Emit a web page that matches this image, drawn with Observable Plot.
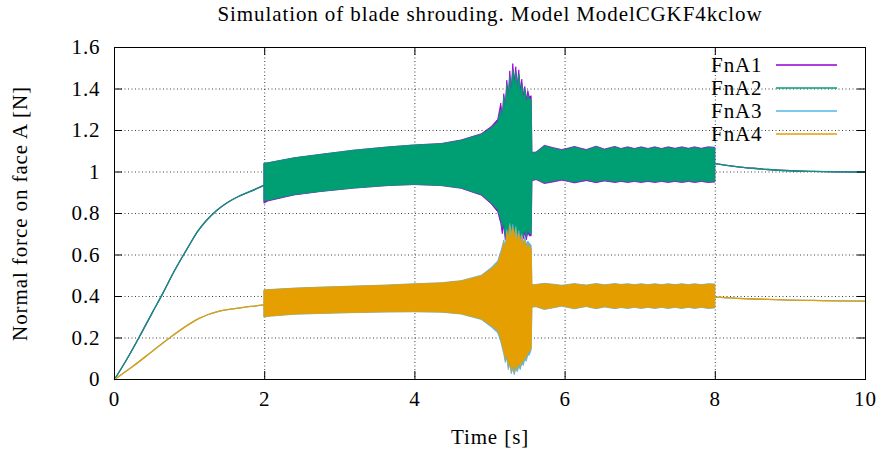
<!DOCTYPE html>
<html><head><meta charset="utf-8">
<script src="https://cdn.jsdelivr.net/npm/d3@7"></script>
<script src="https://cdn.jsdelivr.net/npm/@observablehq/plot@0.6"></script>
<style>
body{margin:0;background:#fff;}
</style></head><body><div id="chart"></div>
<script>
const titleText = "Simulation of blade shrouding. Model ModelCGKF4kclow";
const xLabel = "Time [s]";
const yLabel = "Normal force on face A [N]";
const seriesNames = ["FnA1","FnA2","FnA3","FnA4"];
const seriesColors = ["#9400d3","#009e73","#56b4e9","#e69f00"];
const xTicks = [0,2,4,6,8,10];
const xTickLabels = ["0","2","4","6","8","10"];
const yTicks = [0,0.2,0.4,0.6,0.8,1,1.2,1.4,1.6];
const yTickLabels = ["0","0.2","0.4","0.6","0.8","1","1.2","1.4","1.6"];

// start-up ramp (0..2 s)
const tRampA12 = [0,0.16,0.33,0.5,0.65,0.8,0.91,1.0,1.1,1.22,1.36,1.5,1.65,1.8,2.0];
const fnA12Ramp = [0,0.095,0.205,0.32,0.42,0.525,0.595,0.65,0.71,0.765,0.815,0.852,0.882,0.905,0.937];
const tRampA34 = [0,0.25,0.5,0.75,1.0,1.12,1.24,1.35,1.46,1.6,1.72,1.86,2.0];
const fnA34Ramp = [0,0.065,0.135,0.205,0.268,0.293,0.312,0.325,0.334,0.342,0.348,0.354,0.36];

// oscillation envelopes (2..8 s)
const tBand = [2.0,2.05,2.4,2.76,3.2,3.64,4.0,4.36,4.62,4.89,5.02,5.11,
 5.15,5.17,5.19,5.21,5.23,5.25,5.27,5.29,5.31,5.33,5.35,5.37,5.39,5.41,5.43,5.45,5.47,5.49,5.51,5.53,
 5.555,5.565,5.62,5.73,5.85,5.96,6.05,6.13,6.21,6.29,6.36,6.42,6.48,6.53,6.6,6.67,6.75,6.84,6.93,7.02,7.11,7.2,7.29,7.38,7.47,7.56,7.65,7.73,7.82,7.91,8.0];
const fnA1Hi = [1.040,1.042,1.066,1.083,1.103,1.118,1.128,1.135,1.152,1.182,1.216,1.252,
 1.330,1.270,1.375,1.320,1.440,1.370,1.485,1.400,1.520,1.440,1.505,1.420,1.490,1.400,1.445,1.370,1.410,1.350,1.390,1.360,
 1.365,1.092,1.094,1.126,1.115,1.106,1.113,1.121,1.113,1.106,1.115,1.122,1.115,1.108,1.115,1.121,1.111,1.119,1.111,1.119,1.111,1.119,1.111,1.119,1.112,1.119,1.112,1.119,1.112,1.119,1.117];
const fnA1Lo = [0.848,0.858,0.887,0.904,0.920,0.932,0.937,0.932,0.919,0.886,0.845,0.805,
 0.750,0.700,0.740,0.670,0.700,0.650,0.680,0.620,0.660,0.630,0.680,0.640,0.685,0.655,0.695,0.675,0.705,0.670,0.705,0.690,
 0.690,0.955,0.961,0.942,0.950,0.958,0.952,0.945,0.951,0.956,0.951,0.946,0.951,0.954,0.951,0.947,0.952,0.947,0.952,0.947,0.952,0.947,0.952,0.947,0.952,0.947,0.952,0.947,0.952,0.947,0.949];
const fnA2Hi = [1.040,1.042,1.066,1.083,1.103,1.118,1.128,1.134,1.150,1.179,1.210,1.240,
 1.300,1.260,1.360,1.300,1.420,1.350,1.460,1.380,1.490,1.420,1.480,1.400,1.470,1.380,1.420,1.350,1.400,1.330,1.370,1.350,
 1.350,1.090,1.091,1.123,1.112,1.103,1.110,1.118,1.110,1.103,1.112,1.119,1.112,1.105,1.112,1.118,1.108,1.116,1.108,1.116,1.108,1.116,1.108,1.116,1.109,1.116,1.109,1.116,1.109,1.116,1.114];
const fnA2Lo = [0.858,0.862,0.889,0.905,0.921,0.933,0.938,0.933,0.921,0.889,0.850,0.815,
 0.770,0.730,0.750,0.690,0.720,0.665,0.700,0.640,0.680,0.650,0.700,0.660,0.700,0.670,0.710,0.690,0.720,0.685,0.720,0.700,
 0.700,0.958,0.965,0.946,0.954,0.962,0.956,0.949,0.955,0.960,0.955,0.950,0.955,0.958,0.955,0.951,0.956,0.951,0.956,0.951,0.956,0.951,0.956,0.951,0.956,0.951,0.956,0.951,0.956,0.951,0.953];
const fnA3Hi = [0.429,0.431,0.438,0.443,0.448,0.453,0.459,0.464,0.474,0.500,0.536,0.570,
 0.615,0.640,0.670,0.640,0.720,0.680,0.750,0.700,0.745,0.690,0.735,0.680,0.715,0.670,0.700,0.660,0.685,0.650,0.665,0.655,
 0.645,0.454,0.456,0.461,0.457,0.452,0.456,0.460,0.456,0.453,0.457,0.460,0.457,0.454,0.457,0.460,0.456,0.459,0.455,0.459,0.455,0.459,0.455,0.459,0.455,0.459,0.455,0.459,0.455,0.459,0.458];
const fnA3Lo = [0.298,0.302,0.312,0.316,0.320,0.323,0.324,0.322,0.313,0.287,0.252,0.222,
 0.180,0.150,0.120,0.080,0.100,0.045,0.070,0.025,0.050,0.020,0.050,0.035,0.060,0.045,0.075,0.065,0.095,0.085,0.115,0.115,
 0.140,0.346,0.348,0.335,0.343,0.351,0.344,0.338,0.344,0.349,0.343,0.339,0.343,0.347,0.343,0.339,0.344,0.340,0.345,0.340,0.345,0.340,0.345,0.340,0.345,0.340,0.345,0.340,0.345,0.340,0.342];
const fnA4Hi = [0.428,0.430,0.437,0.442,0.447,0.452,0.458,0.463,0.472,0.497,0.530,0.560,
 0.600,0.625,0.660,0.620,0.710,0.660,0.740,0.680,0.730,0.670,0.720,0.660,0.700,0.650,0.690,0.640,0.670,0.630,0.650,0.640,
 0.630,0.452,0.454,0.459,0.455,0.450,0.454,0.458,0.454,0.451,0.455,0.458,0.455,0.452,0.455,0.458,0.454,0.457,0.453,0.457,0.453,0.457,0.453,0.457,0.453,0.457,0.453,0.457,0.453,0.457,0.456];
const fnA4Lo = [0.300,0.303,0.313,0.317,0.321,0.324,0.325,0.323,0.315,0.290,0.258,0.232,
 0.195,0.160,0.135,0.095,0.120,0.060,0.090,0.040,0.070,0.030,0.070,0.050,0.080,0.060,0.090,0.080,0.110,0.100,0.130,0.130,
 0.150,0.348,0.350,0.337,0.345,0.353,0.346,0.340,0.346,0.351,0.345,0.341,0.345,0.349,0.345,0.341,0.346,0.342,0.347,0.342,0.347,0.342,0.347,0.342,0.347,0.342,0.347,0.342,0.347,0.342,0.344];

// settling (8..10 s)
const tDecay = [8.0,8.15,8.3,8.5,8.7,9.0,9.3,9.6,10.0];
const fnA12Decay = [1.040,1.032,1.025,1.018,1.012,1.006,1.003,1.001,1.000];
const fnA34Decay = [0.397,0.394,0.391,0.388,0.386,0.383,0.381,0.379,0.378];

const W = 881, H = 457, mL = 114, mR = 16, mT = 47, mB = 78;
const plotW = W - mL - mR, plotH = H - mT - mB;
const FONT = "'Liberation Serif'";
const FS = 21;
const LS = "0.9px";

const his = [fnA1Hi, fnA2Hi, fnA3Hi, fnA4Hi];
const los = [fnA1Lo, fnA2Lo, fnA3Lo, fnA4Lo];
const ramps = [[tRampA12, fnA12Ramp],[tRampA12, fnA12Ramp],[tRampA34, fnA34Ramp],[tRampA34, fnA34Ramp]];
const decays = [fnA12Decay, fnA12Decay, fnA34Decay, fnA34Decay];

const seriesMarks = [];
seriesNames.forEach((name, i) => {
  const color = seriesColors[i];
  const band = tBand.map((t, j) => ({t, hi: his[i][j], lo: los[i][j]}));
  const ramp = ramps[i][0].map((t, j) => ({t, v: ramps[i][1][j]}));
  const decay = tDecay.map((t, j) => ({t, v: decays[i][j]}));
  seriesMarks.push(
    Plot.areaY(band, {x: "t", y1: "lo", y2: "hi", fill: color, stroke: color, strokeWidth: 0.8}),
    Plot.line(ramp, {x: "t", y: "v", stroke: color, strokeWidth: 1.3, curve: "monotone-x"}),
    Plot.line(decay, {x: "t", y: "v", stroke: color, strokeWidth: 1.3, curve: "monotone-x"})
  );
});

const chart = Plot.plot({
  width: W, height: H,
  marginLeft: mL, marginRight: mR, marginTop: mT, marginBottom: mB,
  style: {background: "#fff", color: "#000", overflow: "visible"},
  x: {domain: [0, 10], label: null},
  y: {domain: [0, 1.6], label: null},
  marks: [
    Plot.ruleX(xTicks.slice(1, -1), {x: d => d, stroke: "#000", strokeOpacity: 0.75, strokeDasharray: "1,2.5"}),
    Plot.ruleY(yTicks.slice(1, -1), {y: d => d, stroke: "#000", strokeOpacity: 0.75, strokeDasharray: "1,2.5"}),
    ...seriesMarks,
    Plot.frame({stroke: "#000", strokeWidth: 1}),
    Plot.tickX(xTicks, {x: d => d, insetTop: plotH - 8, stroke: "#000"}),
    Plot.tickX(xTicks, {x: d => d, insetBottom: plotH - 8, stroke: "#000"}),
    Plot.tickY(yTicks, {y: d => d, insetRight: plotW - 8, stroke: "#000"}),
    Plot.tickY(yTicks, {y: d => d, insetLeft: plotW - 8, stroke: "#000"}),
    Plot.axisX(xTicks, {anchor: "bottom", tickSize: 0, tickPadding: 12, label: null,
      tickFormat: d => xTickLabels[xTicks.indexOf(d)], fontSize: FS}),
    Plot.axisY(yTicks, {anchor: "left", tickSize: 0, tickPadding: 14, label: null,
      tickFormat: d => yTickLabels[yTicks.indexOf(d)], fontSize: FS}),
    Plot.text([titleText], {frameAnchor: "top", dy: -33, lineAnchor: "middle", fontSize: FS, fill: "#000"}),
    Plot.text([xLabel], {frameAnchor: "bottom", dy: 58, lineAnchor: "middle", fontSize: FS, fill: "#000"}),
    Plot.text([yLabel], {frameAnchor: "left", dx: -94, rotate: -90, textAnchor: "middle", lineAnchor: "middle", fontSize: FS, fill: "#000"}),
    ...seriesNames.map((name, i) => Plot.text([name], {frameAnchor: "top-right", dx: -103, dy: 18 + 23 * i,
      textAnchor: "end", lineAnchor: "middle", fontSize: FS, fill: "#000"}))
  ]
});

const svg = d3.select(chart);
svg.attr("font-family", FONT).style("font-family", FONT);
svg.selectAll("g").attr("font-family", FONT).style("font-family", FONT);
svg.selectAll("text").attr("font-family", FONT).style("font-family", FONT).style("letter-spacing", LS);
// legend swatch lines
seriesNames.forEach((name, i) => {
  svg.append("line")
    .attr("x1", W - mR - 89).attr("x2", W - mR - 28)
    .attr("y1", mT + 18 + 23 * i).attr("y2", mT + 18 + 23 * i)
    .attr("stroke", seriesColors[i]).attr("stroke-width", 1.3);
});
document.getElementById("chart").appendChild(chart);
</script></body></html>
